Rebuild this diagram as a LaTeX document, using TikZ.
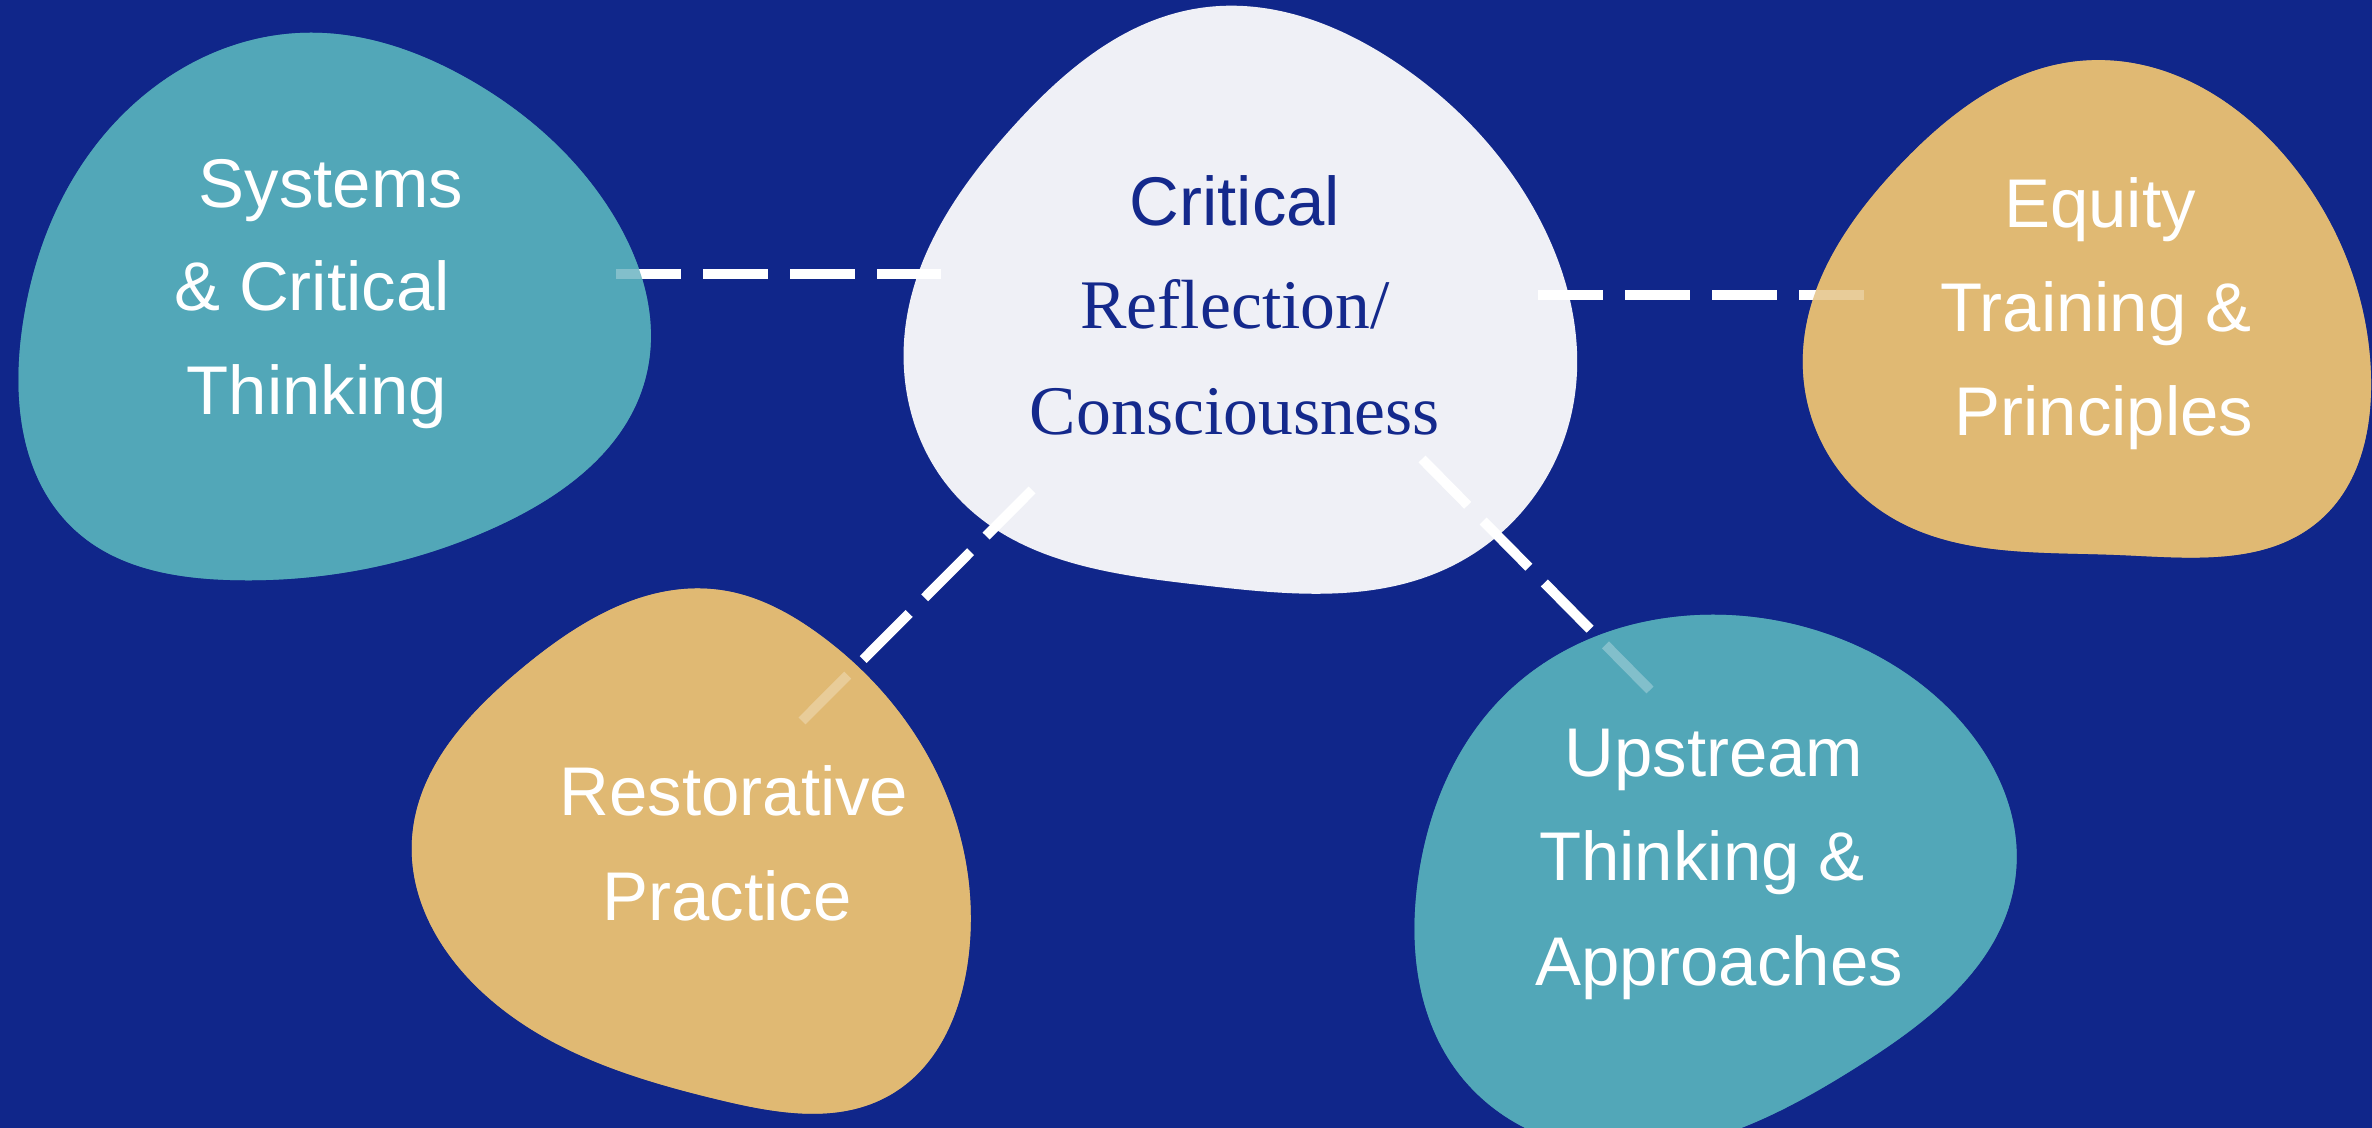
\documentclass[tikz,border=0pt]{standalone}
\usepackage{fontspec}
\usetikzlibrary{hobby}
\setmainfont{Liberation Sans}
\newfontfamily\serifface{Liberation Serif}
\definecolor{bgc}{HTML}{10268A}
\definecolor{tealc}{HTML}{52A7B8}
\definecolor{goldc}{HTML}{E0B973}
\definecolor{centc}{HTML}{EFF0F6}
\definecolor{darktxt}{HTML}{14298C}
\newcommand\blobSys[1]{\fill[#1] plot[closed hobby] coordinates {(300,33) (100,140) (22,330) (75,530) (230,580) (500,525) (645,380) (610,210) (470,80)};}
\newcommand\blobCen[1]{\fill[#1] plot[closed hobby] coordinates {(1200,8) (1010,130) (905,330) (960,500) (1200,585) (1450,567) (1570,420) (1540,220) (1400,65)};}
\newcommand\blobEq[1]{\fill[#1] plot[closed hobby] coordinates {(2080,61) (1900,165) (1803,370) (1880,510) (2120,555) (2320,520) (2371,380) (2300,175)};}
\newcommand\blobRes[1]{\fill[#1] plot[closed hobby] coordinates {(720,590) (520,670) (412,840) (480,990) (720,1100) (890,1095) (968,960) (930,760) (820,635)};}
\newcommand\blobUp[1]{\fill[#1] plot[closed hobby] coordinates {(1700,615) (1510,690) (1418,880) (1460,1075) (1600,1150) (1860,1065) (2015,880) (1950,710) (1830,635)};}
\tikzset{
  conn/.style={draw=white, line width=2.8pt, dash pattern=on 18.5pt off 6.26pt},
  lbl/.style={text=white, inner sep=0pt, anchor=base, font=\fontsize{19.6pt}{24pt}\selectfont},
  clbl/.style={text=darktxt, inner sep=0pt, anchor=base, font=\fontsize{19.6pt}{24pt}\selectfont},
  slbl/.style={text=darktxt, inner sep=0pt, anchor=base, font=\serifface\fontsize{19.8pt}{24pt}\selectfont},
}
\begin{document}
\begin{tikzpicture}[x=0.01cm, y=-0.01cm]
\useasboundingbox (0,0) rectangle (2372,1128);
\clip (0,0) rectangle (2372,1128);
\fill[bgc] (0,0) rectangle (2372,1128);
% blobs
\blobSys{tealc}
\blobEq{goldc}
\blobRes{goldc}
\blobUp{tealc}
\blobCen{centc}
% connector end points
\coordinate (s1) at (616,274);
\coordinate (s2) at (941,274);
\coordinate (e1) at (1538,295);
\coordinate (e2) at (1864,295);
\coordinate (r1) at (1032,490);
\coordinate (r2) at (802,721);
\coordinate (u1) at (1422,459);
\coordinate (u2) at (1650,690);
\draw[conn] (s1) -- (s2);
\draw[conn] (e1) -- (e2);
\draw[conn] (r1) -- (r2);
\draw[conn] (u1) -- (u2);
% translucent overlays of outer blobs
\blobSys{tealc, fill opacity=0.72}
\blobEq{goldc, fill opacity=0.72}
\blobRes{goldc, fill opacity=0.72}
\blobUp{tealc, fill opacity=0.72}
% texts
\node[lbl] (sysA) at (331,208) {Systems};
\node[lbl] (sysB) at (312,311) {\& Critical};
\node[lbl] (sysC) at (317,415) {Thinking};
\node[clbl] (cenA) at (1235,226) {Critical};
\node[slbl] (cenB) at (1235,329) {Reflection/};
\node[slbl] (cenC) at (1235,435) {Consciousness};
\node[lbl] (eqA) at (2100,228) {Equity};
\node[lbl] (eqB) at (2096,332) {Training \&};
\node[lbl] (eqC) at (2104,436) {Principles};
\node[lbl] (resA) at (734,816) {Restorative};
\node[lbl] (resB) at (727,921) {Practice};
\node[lbl] (upA) at (1714,777) {Upstream};
\node[lbl] (upB) at (1702,881) {Thinking \&};
\node[lbl] (upC) at (1719,985) {Approaches};
\end{tikzpicture}
\end{document}
